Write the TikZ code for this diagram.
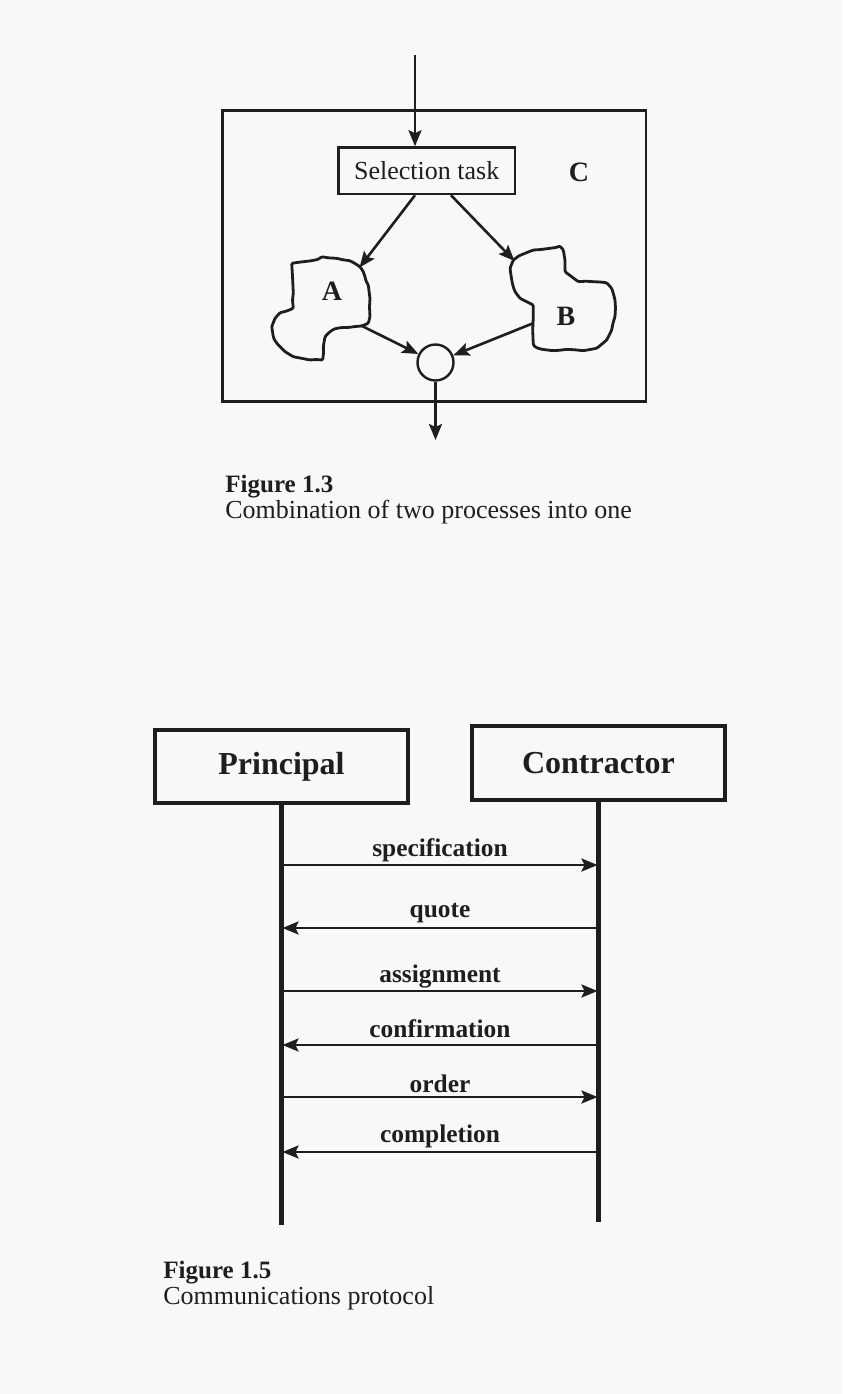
\documentclass[tikz,border=0pt]{standalone}
\usepackage{fontspec}
\setmainfont{Liberation Serif}
\usetikzlibrary{arrows.meta}
\definecolor{paper}{RGB}{247,248,248}
\definecolor{ink}{RGB}{30,30,30}
\begin{document}
\begin{tikzpicture}[x=0.5pt,y=-0.5pt,
  tip/.style={-{Stealth[length=8pt,width=6.5pt,inset=1.5pt]}},
  flow/.style={draw=ink, line width=1.3pt, tip},
  msg/.style={draw=ink, line width=1.3pt, tip},
  life/.style={draw=ink, line width=2.1pt},
  blob/.style={draw=ink, line width=1.4pt, rounded corners=0.6pt, line join=round},
  taskbox/.style={draw=ink, line width=1.2pt, minimum width=88.3pt, minimum height=23.3pt, inner sep=0pt,
    font=\fontsize{13pt}{15pt}\selectfont},
  frame/.style={draw=ink, line width=1.3pt, minimum width=211.7pt, minimum height=145.5pt, inner sep=0pt},
  junction/.style={draw=ink, line width=1.2pt, circle, minimum size=18pt, inner sep=0pt},
  party/.style={draw=ink, line width=1.8pt, minimum width=126.5pt, minimum height=36.5pt, inner sep=0pt,
    font=\fontsize{16pt}{19pt}\selectfont\bfseries},
  letter/.style={font=\fontsize{14pt}{16pt}\selectfont\bfseries, text=ink, inner sep=0pt},
  lbl/.style={font=\fontsize{12.7pt}{15pt}\selectfont\bfseries, text=ink, inner sep=0pt, anchor=base},
  capb/.style={font=\fontsize{12.5pt}{15pt}\selectfont\bfseries, text=ink, inner sep=0pt, anchor=base west},
  capn/.style={font=\fontsize{13pt}{15pt}\selectfont, text=ink, inner sep=0pt, anchor=base west}
  ]
\fill[paper] (0,0) rectangle (842,1394);
\useasboundingbox (0,0) rectangle (842,1394);

% ---------- Figure 1.3 ----------
\node[frame] (C) at (434.3,256.2) {};
\node[letter] (Clbl) at (579,172.5) {C};
\node[taskbox, text=ink] (sel) at (426.7,170.7) {Selection task};
\coordinate (top) at (415,55);
\draw[flow] (top) -- (top |- sel.north);

% blob A
\draw[blob] (291.7,263.3) -- (297,262.5) -- (303.3,261.7) -- (311,260.8) -- (318.3,259.3) -- (321.7,256.7) -- (328,257.8) -- (336.7,258.3)
  -- (343,259.8) -- (350,260.7) -- (355,263.5) -- (360,266.7) -- (363,271) -- (365,276.7) -- (366,281) -- (368.3,285) -- (369,291) -- (370,298.3) -- (369.5,307) -- (370,316.7)
  -- (368.3,323.3) -- (361.7,326) -- (355,326.5) -- (350,327.3) -- (340,327.7) -- (334,329) -- (330,331.7) -- (325,336.7)
  -- (323.3,346.7) -- (323.5,353) -- (322.7,360) -- (316,359.5) -- (310,360) -- (301,358.2) -- (293.3,356.7) -- (285,351.7) -- (281,347.5) -- (278.3,345)
  -- (274.5,340) -- (273.3,336.7) -- (271.7,326.7) -- (275,318.3) -- (280,312.7) -- (286.7,311) -- (293.3,308.3)
  -- (292.5,300) -- (293.3,293.3) -- (292.7,280) -- (292.2,271) -- cycle;
\node[letter] (Albl) at (332,291) {A};

% blob B
\draw[blob] (513.3,260) -- (519,255.8) -- (525,253.3) -- (533.3,250) -- (541,249.5) -- (550,248.3) -- (556,247.5) -- (560,246) -- (563.3,250)
  -- (565,260) -- (565,271.7) -- (571.7,276.7) -- (578.3,281.7) -- (586,281.2) -- (593.3,281.7) -- (600,282) -- (606.7,282.7)
  -- (611.7,288.3) -- (613.5,294) -- (615,300) -- (615.5,308) -- (615,316.7) -- (613,323) -- (611.7,330) -- (606.7,340) -- (602,344) -- (596.7,348.3)
  -- (590,349.5) -- (583.3,350.7) -- (575,349.8) -- (566.7,349.3) -- (560,350.2) -- (553.3,350.7) -- (541.7,349.3) -- (536,347.5) -- (533.3,345) -- (532.7,330)
  -- (533.3,316.7) -- (533.3,305) -- (526.7,301.7) -- (520,298.3) -- (515,291.7) -- (513,286) -- (511.7,280)
  -- (510,268.3) -- cycle;
\node[letter] (Blbl) at (566,316) {B};

\coordinate (Ain) at (359.5,267.5);
\coordinate (Aout) at (361,325.5);
\coordinate (Bin) at (514.5,261);
\coordinate (Bout) at (533,323.3);

\node[junction] (j) at (435.5,362.5) {};
\coordinate (out) at (435.5,440);

\draw[flow] ([xshift=-5.85pt]sel.south) -- (Ain);
\draw[flow] ([xshift=12.15pt]sel.south) -- (Bin);
\draw[flow] (Aout) -- (j);
\draw[flow] (Bout) -- (j);
\draw[flow] (j) -- (out);

\node[capb] (cap13a) at (225,492) {Figure 1.3};
\node[capn] (cap13b) at (225,518) {Combination of two processes into one};

% ---------- Figure 1.5 ----------
\node[party, text=ink] (P) at (281.5,766.5) {Principal};
\node[party, text=ink, minimum height=37pt] (K) at (598.5,763) {Contractor};

\coordinate (Pend) at (281.5,1225);
\coordinate (Kend) at (598.5,1222);
\draw[life] (P.south) -- (Pend);
\draw[life] (K.south) -- (Kend);

\foreach \n/\y in {1/865,2/928,3/991,4/1045,5/1097,6/1152}{
  \coordinate (p\n) at (282.5,\y);
  \coordinate (k\n) at (597.5,\y);
}

\draw[msg] (p1) -- (k1) node[lbl, midway, yshift=4.3pt] {specification};
\draw[msg] (k2) -- (p2) node[lbl, midway, yshift=5.3pt] {quote};
\draw[msg] (p3) -- (k3) node[lbl, midway, yshift=4.5pt] {assignment};
\draw[msg] (k4) -- (p4) node[lbl, midway, yshift=4pt] {confirmation};
\draw[msg] (p5) -- (k5) node[lbl, midway, yshift=2.2pt] {order};
\draw[msg] (k6) -- (p6) node[lbl, midway, yshift=5pt] {completion};

\node[capb] (cap15a) at (163,1278) {Figure 1.5};
\node[capn] (cap15b) at (163,1304) {Communications protocol};
\end{tikzpicture}
\end{document}
